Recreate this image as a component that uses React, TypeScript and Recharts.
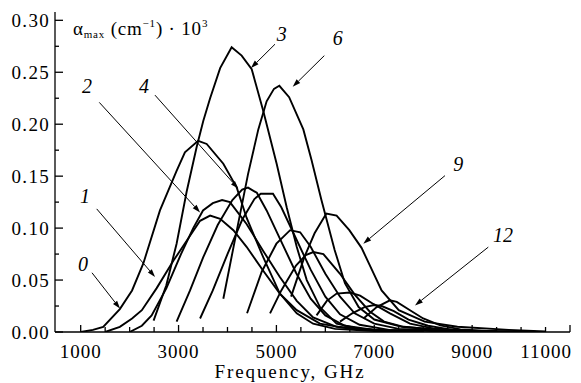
import { LineChart, Line, XAxis, YAxis, ReferenceLine, ReferenceDot } from "recharts";

// absorption curves, [frequency GHz, alpha_max * 10^3]
const curve0: [number, number][] = [[1000, 0], [1250, 0.002], [1460, 0.005], [1800, 0.022], [2050, 0.04], [2280, 0.066], [2620, 0.117], [2960, 0.155], [3130, 0.173], [3400, 0.184], [3575, 0.181], [3915, 0.162], [4190, 0.139], [4390, 0.11], [4730, 0.072], [5070, 0.037], [5415, 0.018], [5750, 0.008], [6200, 0.003], [7000, 0.001], [8000, 0]];
const curve1: [number, number][] = [[1500, 0], [1800, 0.005], [2050, 0.013], [2250, 0.021], [2550, 0.042], [2900, 0.069], [3170, 0.088], [3440, 0.107], [3645, 0.112], [3850, 0.109], [4120, 0.098], [4390, 0.082], [4730, 0.059], [5070, 0.037], [5415, 0.021], [5890, 0.008], [6500, 0.003], [7500, 0.001]];
const curve2: [number, number][] = [[2000, 0], [2250, 0.006], [2450, 0.016], [2750, 0.042], [3050, 0.075], [3300, 0.1], [3500, 0.117], [3700, 0.124], [3890, 0.127], [4050, 0.125], [4390, 0.104], [4730, 0.078], [5070, 0.053], [5415, 0.03], [5750, 0.014], [6230, 0.005], [7000, 0.002], [8000, 0.0005]];
const curve3: [number, number][] = [[2490, 0.011], [2750, 0.045], [2960, 0.085], [3165, 0.135], [3370, 0.178], [3505, 0.203], [3645, 0.225], [3850, 0.254], [4085, 0.274], [4290, 0.266], [4495, 0.253], [4730, 0.213], [5005, 0.162], [5210, 0.12], [5415, 0.082], [5620, 0.05], [5890, 0.024], [6230, 0.008], [6700, 0.003], [7500, 0.001]];
const curve4: [number, number][] = [[2960, 0.01], [3235, 0.04], [3505, 0.072], [3800, 0.103], [4100, 0.127], [4300, 0.137], [4420, 0.139], [4600, 0.134], [4800, 0.117], [5100, 0.087], [5400, 0.057], [5700, 0.032], [6000, 0.016], [6400, 0.006], [7000, 0.002], [8000, 0.0005]];
const curve5: [number, number][] = [[3440, 0.013], [3700, 0.04], [4000, 0.075], [4300, 0.108], [4550, 0.128], [4680, 0.133], [4930, 0.133], [5100, 0.12], [5400, 0.09], [5700, 0.06], [6000, 0.034], [6300, 0.017], [6700, 0.007], [7300, 0.002], [8500, 0.0005]];
const curve6: [number, number][] = [[3915, 0.032], [4200, 0.1], [4420, 0.152], [4630, 0.195], [4800, 0.222], [4950, 0.234], [5060, 0.237], [5260, 0.226], [5550, 0.195], [5715, 0.166], [5920, 0.127], [6190, 0.079], [6400, 0.047], [6680, 0.024], [7000, 0.012], [7560, 0.005], [8500, 0.0015], [9500, 0.0005]];
const curve7: [number, number][] = [[4400, 0.018], [4700, 0.058], [5000, 0.085], [5280, 0.098], [5485, 0.096], [5700, 0.082], [6000, 0.056], [6300, 0.034], [6600, 0.018], [7000, 0.008], [7500, 0.003], [8500, 0.001], [9500, 0.0003]];
const curve8: [number, number][] = [[4870, 0.018], [5100, 0.04], [5400, 0.064], [5600, 0.074], [5755, 0.077], [5960, 0.075], [6300, 0.056], [6600, 0.036], [6900, 0.02], [7200, 0.01], [7600, 0.005], [8400, 0.0015], [9500, 0.0004]];
const curve9: [number, number][] = [[5300, 0.034], [5570, 0.072], [5780, 0.095], [6020, 0.114], [6230, 0.112], [6490, 0.098], [6740, 0.081], [6950, 0.06], [7150, 0.04], [7500, 0.021], [8030, 0.01], [8700, 0.005], [9750, 0.002], [10500, 0.0005]];
const curve10: [number, number][] = [[5820, 0.016], [6030, 0.03], [6230, 0.037], [6500, 0.038], [6710, 0.035], [6980, 0.027], [7320, 0.018], [7730, 0.008], [8200, 0.0035], [9000, 0.001], [10000, 0.0003]];
const curve11: [number, number][] = [[6300, 0.01], [6550, 0.018], [6800, 0.024], [7000, 0.026], [7150, 0.025], [7400, 0.02], [7700, 0.012], [8100, 0.006], [8600, 0.002], [9500, 0.0005]];
const curve12: [number, number][] = [[6780, 0.013], [7050, 0.024], [7320, 0.0305], [7460, 0.029], [7730, 0.021], [8000, 0.013], [8350, 0.0064], [8760, 0.0025], [9300, 0.001], [10300, 0.0003]];

const curves = [curve0, curve1, curve2, curve3, curve4, curve5, curve6, curve7, curve8, curve9, curve10, curve11, curve12];

const xTicks = [1000, 1500, 2000, 2500, 3000, 3500, 4000, 4500, 5000, 5500, 6000, 6500, 7000, 7500, 8000, 8500, 9000, 9500, 10000, 10500, 11000];
const yTicks = [0, 0.025, 0.05, 0.075, 0.1, 0.125, 0.15, 0.175, 0.2, 0.225, 0.25, 0.275, 0.3];

// curve numbers with leader arrows: text at `at`, arrow from `from` to `to`
const callouts = [
  { text: "0", at: [1047, 0.066], from: [1231, 0.057], to: [1803, 0.0225] },
  { text: "1", at: [1088, 0.131], from: [1327, 0.1185], to: [2520, 0.053] },
  { text: "2", at: [1129, 0.237], from: [1380, 0.221], to: [3440, 0.115] },
  { text: "4", at: [2292, 0.237], from: [2518, 0.228], to: [4221, 0.138] },
  { text: "3", at: [5108, 0.287], from: [4971, 0.277], to: [4480, 0.254] },
  { text: "6", at: [6252, 0.283], from: [5979, 0.266], to: [5333, 0.236] },
  { text: "9", at: [8717, 0.162], from: [8445, 0.1505], to: [6776, 0.085] },
  { text: "12", at: [9632, 0.093], from: [9330, 0.0817], to: [7832, 0.0256] },
];

const SERIF = "Liberation Serif";

const XTick = (props: any) => {
  const { x, y, payload } = props;
  const major = payload.value % 2000 === 1000;
  const last = payload.value === 11000;
  return (
    <g>
      <line x1={x} x2={x} y1={y} y2={y - (major ? 7 : 5)} stroke="#000" strokeWidth={1.3} />
      {major && (
        <text
          x={last ? x + 2 : x}
          y={y + 26}
          textAnchor={last ? "end" : "middle"}
          fontFamily={SERIF}
          fontSize={19}
          letterSpacing={1}
          fill="#000"
        >
          {payload.value}
        </text>
      )}
    </g>
  );
};

const YTick = (props: any) => {
  const { x, y, payload } = props;
  const major = Math.round(payload.value * 1000) % 50 === 0;
  return (
    <g>
      <line x1={x} x2={x + (major ? 8 : 4)} y1={y} y2={y} stroke="#000" strokeWidth={1.3} />
      {major && (
        <text x={x - 5} y={y} dy="0.35em" textAnchor="end" fontFamily={SERIF} fontSize={19} letterSpacing={1.3} fill="#000">
          {payload.value.toFixed(2)}
        </text>
      )}
    </g>
  );
};

const YTitle = () => (
  <text x={73} y={35} fontFamily={SERIF} fontSize={19} letterSpacing={0.8} fill="#000">
    <tspan>α</tspan>
    <tspan fontSize={11} dy={3}>max</tspan>
    <tspan dy={-3}> (cm</tspan>
    <tspan fontSize={11} dy={-8}>−1</tspan>
    <tspan dy={8}>) · 10</tspan>
    <tspan fontSize={11} dy={-8}>3</tspan>
  </text>
);

const XTitle = () => (
  <text x={290} y={378} textAnchor="middle" fontFamily={SERIF} fontSize={19} letterSpacing={1.9} fill="#000">
    Frequency, GHz
  </text>
);

const Arrow = (props: any) => {
  const { x1, y1, x2, y2 } = props;
  const ang = Math.atan2(y2 - y1, x2 - x1);
  const len = 8;
  const half = 2.6;
  const bx = x2 - len * Math.cos(ang);
  const by = y2 - len * Math.sin(ang);
  const px = -Math.sin(ang) * half;
  const py = Math.cos(ang) * half;
  return (
    <g>
      <line x1={x1} y1={y1} x2={bx} y2={by} stroke="#000" strokeWidth={1} />
      <polygon points={`${x2},${y2} ${bx + px},${by + py} ${bx - px},${by - py}`} fill="#000" />
    </g>
  );
};

export default function App() {
  return (
    <div style={{ position: "absolute", left: 0, top: 0, width: 581, height: 383, background: "#fff" }}>
      <LineChart width={581} height={383} margin={{ top: 12, right: 11, bottom: 0, left: 0 }}>
        <XAxis
          type="number"
          dataKey="f"
          domain={[475, 11000]}
          ticks={xTicks}
          interval={0}
          allowDataOverflow
          tickLine={false}
          tickSize={0}
          tickMargin={0}
          tick={<XTick />}
          height={51}
          axisLine={{ stroke: "#000", strokeWidth: 1.3 }}
          label={<XTitle />}
        />
        <YAxis
          type="number"
          domain={[0, 0.308]}
          ticks={yTicks}
          interval={0}
          allowDataOverflow
          tickLine={false}
          tickSize={0}
          tickMargin={0}
          tick={<YTick />}
          width={55}
          axisLine={{ stroke: "#000", strokeWidth: 1.3 }}
          label={<YTitle />}
        />
        {curves.map((c, i) => (
          <Line
            key={`c${i}`}
            data={c.map(([f, v]) => ({ f, v }))}
            dataKey="v"
            type="linear"
            stroke="#000"
            strokeWidth={1.9}
            dot={false}
            activeDot={false}
            isAnimationActive={false}
          />
        ))}
        {callouts.map((a) => (
          <ReferenceLine
            key={`a${a.text}`}
            segment={[
              { x: a.from[0], y: a.from[1] },
              { x: a.to[0], y: a.to[1] },
            ]}
            shape={<Arrow />}
            ifOverflow="visible"
          />
        ))}
        {callouts.map((a) => (
          <ReferenceDot
            key={`t${a.text}`}
            x={a.at[0]}
            y={a.at[1]}
            r={0}
            fill="none"
            stroke="none"
            ifOverflow="visible"
            label={{
              value: a.text,
              position: "center",
              fontFamily: SERIF,
              fontStyle: "italic",
              fontSize: 20,
              fill: "#000",
            }}
          />
        ))}
      </LineChart>
    </div>
  );
}
